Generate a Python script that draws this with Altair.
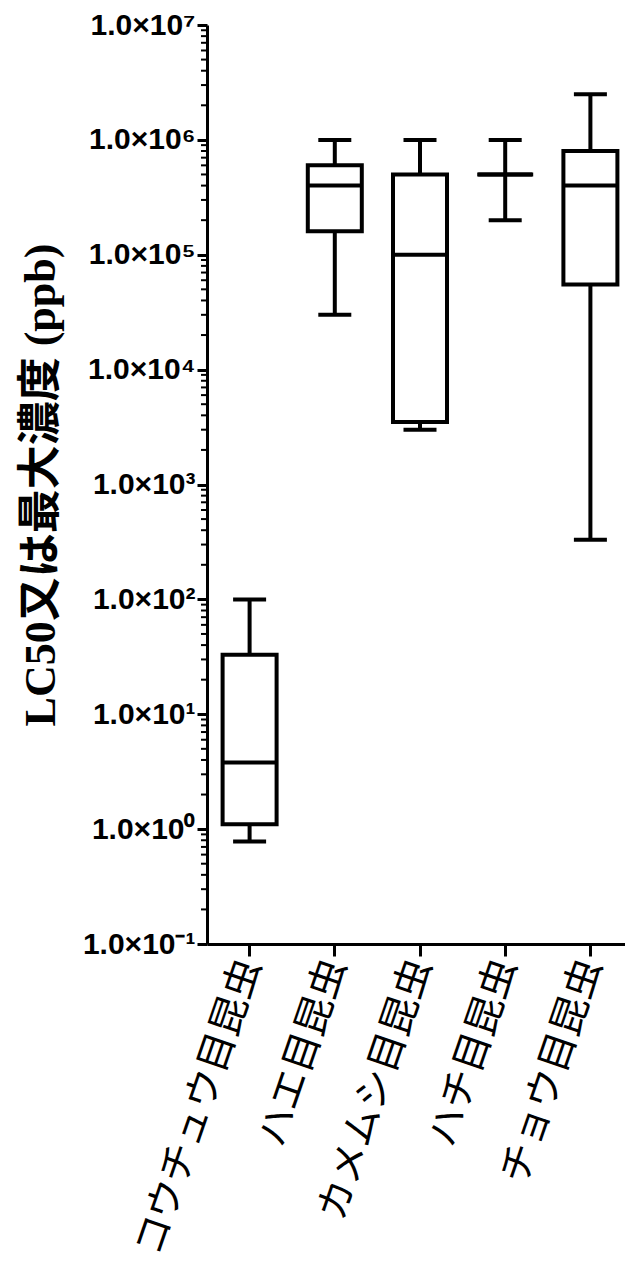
import altair as alt
import pandas as pd

# ---- data ----
categories = ["コウチュウ目昆虫", "ハエ目昆虫", "カメムシ目昆虫", "ハチ目昆虫", "チョウ目昆虫"]
whisker_min = [0.78, 3.0e4, 3.0e3, 2.0e5, 3.3e2]
q1_values = [1.1, 1.6e5, 3.5e3, 5.0e5, 5.5e4]
median_values = [3.8, 4.0e5, 1.0e5, 5.0e5, 4.0e5]
q3_values = [33.0, 6.0e5, 5.0e5, 5.0e5, 8.0e5]
whisker_max = [100.0, 1.0e6, 1.0e6, 1.0e6, 2.5e6]

major_ticks = [1e-1, 1e0, 1e1, 1e2, 1e3, 1e4, 1e5, 1e6, 1e7]
major_labels = ["1.0×10⁻¹", "1.0×10⁰", "1.0×10¹", "1.0×10²", "1.0×10³",
                "1.0×10⁴", "1.0×10⁵", "1.0×10⁶", "1.0×10⁷"]
minor_multipliers = [2, 3, 4, 5, 6, 7, 8, 9]
minor_ticks = [m * d for d in major_ticks[:-1] for m in minor_multipliers]

y_title = "LC50又は最大濃度 (ppb)"

df = pd.DataFrame({
    "category": categories,
    "min": whisker_min,
    "q1": q1_values,
    "median": median_values,
    "q3": q3_values,
    "max": whisker_max,
})
df_minor = pd.DataFrame({"value": minor_ticks})

label_array = "[" + ",".join("'" + s + "'" for s in major_labels) + "]"
label_expr = (
    "abs(log(datum.value)/LN10 - round(log(datum.value)/LN10)) < 0.001 ? "
    + label_array + "[round(log(datum.value)/LN10) + 1] : ''"
)

PLOT_W = 418
yscale = alt.Scale(type="log", domain=[1e-1, 1e7], nice=False)
xscale = alt.Scale(paddingInner=0, paddingOuter=0, range=[0, 426])

x_enc = alt.X(
    "category:N",
    sort=categories,
    scale=xscale,
    axis=alt.Axis(
        title=None,
        labelAngle=289,
        labelAlign="right",
        labelBaseline="middle",
        labelFont="Noto Sans CJK JP",
        labelFontSize=39,
        labelColor="#000000",
        labelPadding=4,
        tickSize=12,
        tickWidth=3,
        tickColor="#000000",
        domainColor="#000000",
        domainWidth=3,
        labelLimit=0,
    ),
)

y_axis = alt.Axis(
    title=y_title,
    values=major_ticks,
    labelExpr=label_expr,
    labelFont="Liberation Sans",
    labelFontWeight="bold",
    labelFontSize=30,
    labelColor="#000000",
    labelPadding=2,
    tickSize=10,
    tickWidth=3,
    tickColor="#000000",
    domainColor="#000000",
    domainWidth=3,
    grid=False,
    titleFont="Liberation Serif, Noto Sans CJK JP",
    titleFontWeight="bold",
    titleFontSize=44,
    titleColor="#000000",
    titleAngle=270,
    titleBaseline="middle",
    titleAlign="center",
    titleX=-166,
    titleY=459.5,
)

base = alt.Chart(df)
SW = 4

whisker = base.mark_rule(color="#000000", strokeWidth=SW).encode(
    x=x_enc,
    y=alt.Y("min:Q", scale=yscale, axis=y_axis),
    y2="max:Q",
)
box = base.mark_bar(size=54, fill="#ffffff", stroke="#000000", strokeWidth=SW).encode(
    x=x_enc,
    y=alt.Y("q1:Q", scale=yscale, axis=y_axis),
    y2="q3:Q",
)
median = base.mark_tick(size=56, thickness=SW, color="#000000", opacity=1).encode(
    x=x_enc,
    y=alt.Y("median:Q", scale=yscale, axis=y_axis),
)
cap_low = base.mark_tick(size=33, thickness=SW, color="#000000", opacity=1).encode(
    x=x_enc,
    y=alt.Y("min:Q", scale=yscale, axis=y_axis),
)
cap_high = base.mark_tick(size=33, thickness=SW, color="#000000", opacity=1).encode(
    x=x_enc,
    y=alt.Y("max:Q", scale=yscale, axis=y_axis),
)
minor = alt.Chart(df_minor).mark_tick(
    orient="horizontal", size=6, thickness=2, color="#000000", opacity=1
).encode(
    y=alt.Y("value:Q", scale=yscale, axis=y_axis),
    x=alt.value(-3),
)

chart = (
    alt.layer(whisker, box, median, cap_low, cap_high, minor)
    .properties(
        width=PLOT_W,
        height=919,
        autosize=alt.AutoSizeParams(type="none"),
        padding={"left": 199, "top": 17, "right": 0, "bottom": 320},
        background="#ffffff",
    )
    .configure_view(stroke=None)
)

chart.save("out.html", embed_options={"renderer": "svg", "actions": False})
